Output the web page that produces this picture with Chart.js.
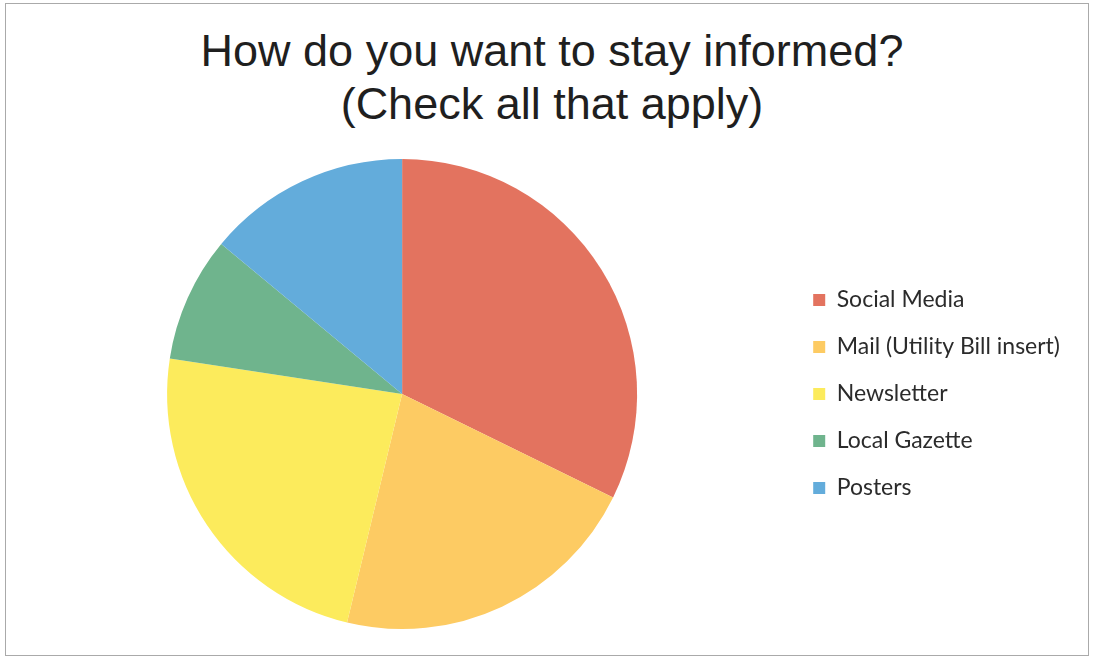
<!DOCTYPE html>
<html>
<head>
<meta charset="utf-8">
<title>How do you want to stay informed?</title>
<script src="https://cdn.jsdelivr.net/npm/chart.js@4/dist/chart.umd.min.js"></script>
<style>
  html, body { margin: 0; padding: 0; background: #fff; }
  .frame {
    position: absolute; left: 5px; top: 3px;
    width: 1082px; height: 651px;
    border: 1px solid #aaaaaa;
  }
  .chart-title {
    position: absolute; left: 0; top: 24px; width: 1104px;
    text-align: center;
    font-family: "Liberation Sans", Arial, sans-serif;
    font-size: 45px; line-height: 53px;
    color: #1f1f1f;
  }
  .chart-box { position: absolute; left: 0; top: 0; width: 1093px; height: 658px; }
</style>
</head>
<body>
<div class="frame"></div>
<div class="chart-title" id="chartTitle"></div>
<div class="chart-box"><canvas id="pieChart"></canvas></div>
<script>
const titleLines = ['How do you want to stay informed?', '(Check all that apply)'];
const categories = ['Social Media', 'Mail (Utility Bill insert)', 'Newsletter', 'Local Gazette', 'Posters'];
const responses = [30, 20, 22, 8, 13];
const sliceColors = ['#E3735F', '#FDCB63', '#FCEB5C', '#6FB48D', '#63ACDB'];

const titleEl = document.getElementById('chartTitle');
titleLines.forEach(line => {
  const row = document.createElement('div');
  row.textContent = line;
  titleEl.appendChild(row);
});

const ctx = document.getElementById('pieChart').getContext('2d');
new Chart(ctx, {
  type: 'pie',
  data: {
    labels: categories,
    datasets: [{
      data: responses,
      backgroundColor: sliceColors,
      borderWidth: 0
    }]
  },
  options: {
    responsive: true,
    maintainAspectRatio: false,
    animation: false,
    // room on top for the html title
    layout: { padding: { left: 15, right: 23, top: 159, bottom: 29 } },
    plugins: {
      tooltip: { enabled: false },
      legend: {
        position: 'right',
        labels: {
          color: '#2b2b2b',
          font: { family: 'Lato, "Open Sans", sans-serif', size: 23 },
          boxWidth: 12,
          boxHeight: 12,
          padding: 24
        }
      }
    }
  }
});
</script>
</body>
</html>
